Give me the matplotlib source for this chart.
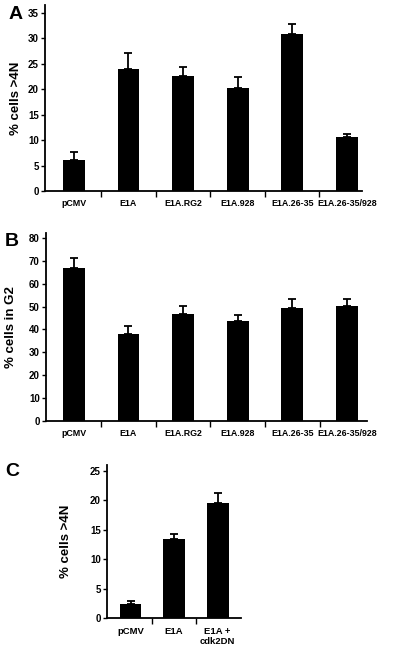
import matplotlib
matplotlib.use("Agg")
import matplotlib.pyplot as plt
import numpy as np

plt.rcParams['font.family'] = ['Liberation Sans', 'DejaVu Sans']

cats_ab = ["pCMV", "E1A", "E1A.RG2", "E1A.928", "E1A.26-35", "E1A.26-35/928"]
a_vals = [6.1, 23.9, 22.5, 20.2, 30.8, 10.5]
a_err = [1.6, 3.1, 1.9, 2.1, 2.0, 0.6]
b_vals = [67.1, 37.9, 46.8, 43.9, 49.6, 50.4]
b_err = [4.4, 3.6, 3.5, 2.6, 3.9, 2.8]
cats_c = ["pCMV", "E1A", "E1A +\ncdk2DN"]
c_vals = [2.5, 13.4, 19.6]
c_err = [0.5, 0.9, 1.6]

a_yticks = [0, 5, 10, 15, 20, 25, 30, 35]
b_yticks = [0, 10, 20, 30, 40, 50, 60, 70, 80]
c_yticks = [0, 5, 10, 15, 20, 25]

fig = plt.figure(figsize=(4.0, 6.51), dpi=100)
W, H = 400.0, 651.0

def make_ax(left, right, top, bottom):
    return fig.add_axes([left / W, 1 - bottom / H, (right - left) / W, (bottom - top) / H])

def style(ax, cats, vals, errs, yticks, ylim, xlim, width, ylabel, lblsize=6.4, ysize=7):
    x = np.arange(len(cats))
    ax.bar(x, vals, width=width, color='black', zorder=2)
    ax.errorbar(x, vals, yerr=[np.zeros(len(errs)), errs], fmt='none',
                ecolor='black', elinewidth=1.3, capsize=3, capthick=1.3, zorder=1)
    ax.set_xlim(*xlim)
    ax.set_ylim(*ylim)
    ax.set_yticks(yticks)
    ax.set_yticklabels([str(t) for t in yticks], fontsize=ysize, fontweight='bold')
    ax.set_xticks(x)
    ax.set_xticklabels(cats, fontsize=lblsize, fontweight='bold')
    ax.set_xticks((x[:-1] + x[1:]) / 2, minor=True)
    ax.tick_params(axis='x', which='major', length=0, pad=6)
    ax.tick_params(axis='x', which='minor', length=4, width=1.0, direction='out')
    ax.tick_params(axis='y', length=3, width=1.0, pad=1.5)
    for s in ['top', 'right']:
        ax.spines[s].set_visible(False)
    for s in ['left', 'bottom']:
        ax.spines[s].set_linewidth(1.3)
    ax.set_ylabel(ylabel, fontsize=9.5, fontweight='bold')

axA = make_ax(45, 362, 5, 191)
style(axA, cats_ab, a_vals, a_err, a_yticks, (0, 36.5), (-0.53, 5.28), 0.4, "% cells >4N")
axA.yaxis.set_label_coords(-0.073, 0.5)

axB = make_ax(46, 367, 233, 420.7)
style(axB, cats_ab, b_vals, b_err, b_yticks, (0, 82.3), (-0.51, 5.37), 0.4, "% cells in G2")
axB.yaxis.set_label_coords(-0.09, 0.5)

axC = make_ax(107, 240.7, 465, 618.3)
style(axC, cats_c, c_vals, c_err, c_yticks, (0, 26.0), (-0.54, 2.53), 0.5, "% cells >4N", lblsize=6.8)
axC.yaxis.set_label_coords(-0.26, 0.5)

fig.text(15.5 / W, 1 - 14.5 / H, "A", fontsize=14, fontweight='bold', ha='center', va='center')
fig.text(11.5 / W, 1 - 241 / H, "B", fontsize=14, fontweight='bold', ha='center', va='center')
fig.text(12 / W, 1 - 471 / H, "C", fontsize=14, fontweight='bold', ha='center', va='center')

fig.savefig("out.png", dpi=100)
